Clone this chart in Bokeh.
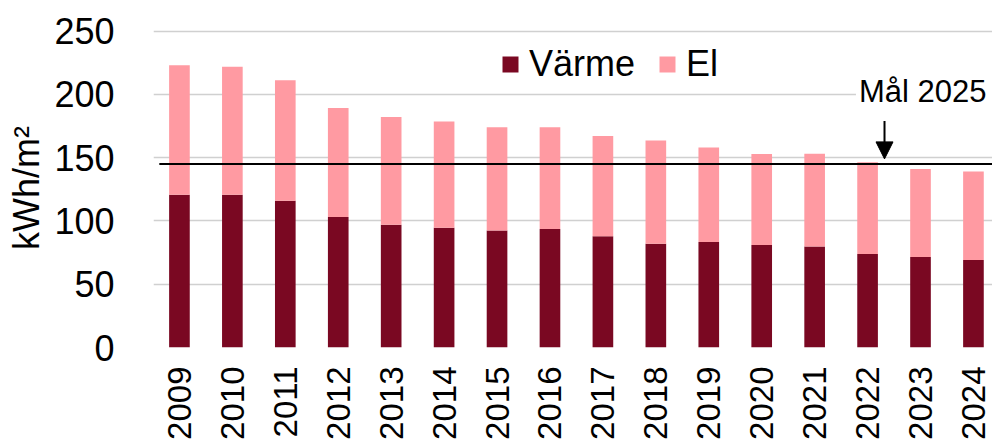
import math
from bokeh.plotting import figure
from bokeh.models import Range1d, FixedTicker, Legend, LegendItem, Label, Arrow, NormalHead, ColumnDataSource
from bokeh.embed import file_html
from bokeh.resources import INLINE

years = [2009, 2010, 2011, 2012, 2013, 2014, 2015, 2016, 2017, 2018, 2019, 2020, 2021, 2022, 2023, 2024]
varme = [120.6, 120.6, 115.9, 103.0, 97.0, 94.6, 92.5, 93.6, 87.8, 82.0, 83.3, 81.0, 79.7, 73.9, 71.5, 69.1]
el = [102.4, 101.1, 95.3, 86.1, 85.0, 84.0, 81.4, 80.4, 79.2, 81.6, 74.6, 71.9, 73.3, 72.4, 69.6, 69.9]
target_2025 = 145
y_ticks = [0, 50, 100, 150, 200, 250]

FONT = "Liberation Sans"
C_VARME = "#7A0822"
C_EL = "#FF9AA2"

src = ColumnDataSource(dict(year=years, varme=varme, el=el))

p = figure(width=992, height=443, output_backend="svg", toolbar_location=None,
           x_range=Range1d(2008.51, 2024.36), y_range=Range1d(0, 252),
           min_border_left=153, min_border_right=0, min_border_top=28, min_border_bottom=96)
p.outline_line_color = None
p.background_fill_color = "white"

r_v = p.vbar_stack(["varme", "el"], x="year", width=0.39, source=src,
                   color=[C_VARME, C_EL], line_color=None)

# target line
p.line(x=[years[0] - 0.38, years[-1] + 0.6], y=[target_2025, target_2025], line_color="black", line_width=2)

# axes
p.xaxis.ticker = FixedTicker(ticks=years)
p.xaxis.major_label_orientation = math.pi / 2
p.xaxis.major_label_text_font_size = "33px"
p.xaxis.major_label_text_font = FONT
p.xaxis.major_label_text_color = "black"
p.xaxis.major_label_standoff = 13
p.xaxis.axis_line_color = None
p.xaxis.major_tick_line_color = None
p.xaxis.minor_tick_line_color = None

p.yaxis.ticker = FixedTicker(ticks=y_ticks)
p.yaxis.major_label_text_font_size = "36px"
p.yaxis.major_label_text_font = FONT
p.yaxis.major_label_text_color = "black"
p.yaxis.major_label_standoff = 33
p.yaxis.axis_line_color = None
p.yaxis.major_tick_line_color = None
p.yaxis.minor_tick_line_color = None
p.yaxis.axis_label = "kWh/m²"
p.yaxis.axis_label_text_font = FONT
p.yaxis.axis_label_text_font_size = "36px"
p.yaxis.axis_label_text_font_style = "normal"
p.yaxis.axis_label_text_color = "black"
p.yaxis.axis_label_standoff = 4

p.xgrid.grid_line_color = None
p.ygrid.grid_line_color = "#D0D0D0"
p.ygrid.grid_line_width = 1.5

# legend
legend = Legend(items=[LegendItem(label="Värme", renderers=[r_v[0]]),
                       LegendItem(label="El", renderers=[r_v[1]])],
                orientation="horizontal", location=(347, 262),
                glyph_width=20, glyph_height=20, label_standoff=9, spacing=22,
                padding=0, margin=0, border_line_color=None, background_fill_alpha=0,
                label_text_font=FONT, label_text_font_size="36px", label_text_color="black")
p.add_layout(legend, "center")

# annotation
lab = Label(x=2023.07, y=194, text="Mål 2025", text_align="center", text_baseline="alphabetic",
            text_font=FONT, text_font_size="31px", text_color="black",
            background_fill_color="white", padding=(3, 6, 3, 24))
p.add_layout(lab)
arrow = Arrow(end=NormalHead(size=17, fill_color="black", line_color="black"),
              x_start=2022.32, y_start=179, x_end=2022.32, y_end=149,
              line_color="black", line_width=2)
p.add_layout(arrow)

open("out.html", "w").write(file_html(p, INLINE))
